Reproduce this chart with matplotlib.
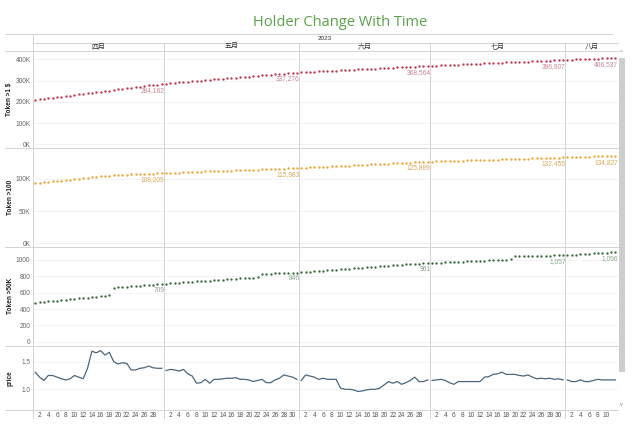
import matplotlib
matplotlib.use("Agg")
import matplotlib.pyplot as plt
from matplotlib.lines import Line2D
from matplotlib.patches import Rectangle

plt.rcParams['font.family'] = ['Liberation Sans', 'Noto Sans CJK SC', 'DejaVu Sans']

title = "Holder Change With Time"
year = "2023"
months = ["四月", "五月", "六月", "七月", "八月"]
row_names = ["Token >1 $", "Token >100", "Token >50K", "price"]

# Token >1 $ holders, thousands, one value per day
token1_apr = [208.0, 210.9, 213.2, 215.8, 218.9, 221.0, 223.6, 226.7, 229.1, 231.4, 234.6, 237.2, 239.5, 242.0, 244.9,
              247.3, 250.4, 252.8, 255.0, 258.1, 260.7, 263.0, 265.6, 268.9, 271.2, 273.5, 276.8, 279.1, 281.4, 284.162]
token1_may = [286.1, 288.0, 289.6, 291.5, 293.1, 294.9, 296.4, 298.3, 299.9, 301.8, 303.4, 305.2, 306.9, 308.5, 310.3,
              312.0, 313.6, 315.5, 317.0, 318.8, 320.5, 322.1, 323.9, 325.5, 327.2, 328.8, 330.6, 332.1, 333.9, 335.6, 337.276]
token1_jun = [338.5, 339.6, 340.7, 341.6, 342.8, 343.9, 344.9, 346.0, 347.0, 348.1, 349.2, 350.2, 351.3, 352.3, 353.4,
              354.4, 355.5, 356.5, 357.6, 358.6, 359.7, 360.7, 361.8, 362.8, 363.9, 364.9, 366.0, 366.9, 367.8, 368.564]
token1_jul = [369.5, 370.5, 371.4, 372.3, 373.2, 374.1, 375.0, 375.9, 376.8, 377.8, 378.7, 379.6, 380.5, 381.4, 382.3,
              383.2, 384.1, 385.0, 385.9, 386.8, 387.7, 388.6, 389.5, 390.4, 391.3, 392.2, 393.1, 394.1, 395.0, 396.0, 396.907]
token1_aug = [397.8, 398.6, 399.4, 400.3, 401.1, 401.9, 402.7, 403.5, 404.3, 405.0, 405.8, 406.537]

# Token >100 holders, thousands
token100_apr = [92.6, 93.4, 94.1, 94.8, 95.5, 96.2, 96.9, 97.6, 98.3, 99.0, 99.7, 100.4, 101.1, 101.8, 102.5,
                103.2, 103.9, 104.5, 104.9, 105.3, 105.6, 105.9, 106.2, 106.5, 106.8, 107.1, 107.4, 107.7, 108.0, 108.209]
token100_may = [108.5, 108.7, 109.0, 109.2, 109.5, 109.8, 110.0, 110.3, 110.5, 110.8, 111.0, 111.3, 111.5, 111.8, 112.0,
                112.3, 112.5, 112.8, 113.0, 113.3, 113.5, 113.8, 114.0, 114.3, 114.5, 114.8, 115.0, 115.3, 115.5, 115.8, 115.983]
token100_jun = [116.3, 116.7, 117.0, 117.3, 117.7, 118.0, 118.4, 118.7, 119.0, 119.4, 119.7, 120.0, 120.4, 120.7, 121.0,
                121.4, 121.7, 122.0, 122.4, 122.7, 123.0, 123.3, 123.6, 124.0, 124.3, 124.6, 124.9, 125.2, 125.6, 125.889]
token100_jul = [126.1, 126.3, 126.5, 126.7, 127.0, 127.2, 127.4, 127.6, 127.8, 128.0, 128.2, 128.4, 128.6, 128.8, 129.0,
                129.2, 129.4, 129.6, 129.9, 130.1, 130.3, 130.5, 130.7, 130.9, 131.1, 131.3, 131.5, 131.7, 131.9, 132.2, 132.455]
token100_aug = [132.7, 132.9, 133.1, 133.3, 133.5, 133.7, 133.9, 134.1, 134.3, 134.5, 134.7, 134.827]

# Token >50K holders
token50k_apr = [477, 482, 487, 493, 498, 503, 509, 514, 519, 524, 530, 535, 540, 545, 550,
                556, 561, 566, 659, 664, 668, 673, 677, 682, 686, 691, 695, 700, 704, 709]
token50k_may = [712, 716, 720, 723, 727, 731, 734, 738, 742, 745, 749, 753, 757, 760, 764,
                768, 771, 775, 779, 782, 785, 787, 828, 830, 833, 835, 837, 839, 841, 844, 846]
token50k_jun = [850, 854, 858, 862, 866, 870, 874, 878, 882, 886, 890, 894, 898, 901, 905,
                909, 913, 917, 921, 925, 929, 933, 937, 941, 945, 949, 952, 955, 958, 961]
token50k_jul = [963, 965, 968, 970, 973, 975, 978, 980, 983, 985, 988, 990, 993, 995, 998,
                1000, 1003, 1005, 1008, 1048, 1049, 1049, 1050, 1051, 1052, 1053, 1054, 1054, 1055, 1056, 1057]
token50k_aug = [1060, 1064, 1067, 1071, 1074, 1078, 1081, 1084, 1087, 1090, 1093, 1096]

# price
price_apr = [1.31, 1.22, 1.16, 1.25, 1.25, 1.22, 1.19, 1.17, 1.19, 1.25, 1.22, 1.19, 1.38, 1.69, 1.66,
             1.70, 1.62, 1.67, 1.50, 1.46, 1.48, 1.47, 1.35, 1.35, 1.38, 1.39, 1.42, 1.39, 1.38, 1.38]
price_may = [1.34, 1.36, 1.35, 1.33, 1.36, 1.28, 1.24, 1.11, 1.12, 1.18, 1.11, 1.18, 1.18, 1.19, 1.20,
             1.20, 1.21, 1.18, 1.18, 1.17, 1.14, 1.16, 1.18, 1.12, 1.12, 1.17, 1.20, 1.26, 1.24, 1.22, 1.18]
price_jun = [1.16, 1.26, 1.24, 1.22, 1.18, 1.20, 1.18, 1.18, 1.18, 1.02, 1.00, 1.00, 0.99, 0.96, 0.97,
             0.99, 1.00, 1.00, 1.02, 1.08, 1.14, 1.11, 1.14, 1.09, 1.12, 1.16, 1.22, 1.14, 1.14, 1.17]
price_jul = [1.16, 1.17, 1.18, 1.16, 1.12, 1.09, 1.14, 1.14, 1.14, 1.14, 1.14, 1.14, 1.22, 1.23, 1.27,
             1.28, 1.31, 1.27, 1.27, 1.27, 1.25, 1.24, 1.26, 1.22, 1.19, 1.20, 1.19, 1.20, 1.18, 1.19, 1.17]
price_aug = [1.17, 1.14, 1.14, 1.17, 1.14, 1.14, 1.16, 1.18, 1.17, 1.17, 1.17, 1.17]

rows = [
    [token1_apr, token1_may, token1_jun, token1_jul, token1_aug],
    [token100_apr, token100_may, token100_jun, token100_jul, token100_aug],
    [token50k_apr, token50k_may, token50k_jun, token50k_jul, token50k_aug],
    [price_apr, price_may, price_jun, price_jul, price_aug],
]

row_yticks = [[0, 100, 200, 300, 400], [0, 50, 100], [0, 200, 400, 600, 800, 1000], [1.0, 1.5]]
row_yticklabels = [["0K", "100K", "200K", "300K", "400K"], ["0K", "50K", "100K"],
                   ["0", "200", "400", "600", "800", "1000"], ["1.0", "1.5"]]
row_ylim = [(-18.8, 440.5), (-5.4, 146.5), (-46.5, 1159), (0.625, 1.793)]
dot_colors = ["#bf3650", "#eea232", "#3e6a3e"]
label_colors = ["#c98592", "#d6aa5c", "#8aa48a"]
line_color = "#4d667a"
grid_color = "#d4d4d4"

W, H = 644, 428


def fx(x):
    return x / W


def fy(y):
    return 1 - y / H


fig = plt.figure(figsize=(W / 100, H / 100), dpi=100)

n_days = [len(m) for m in rows[3]]
plot_left, plot_right = 33, 617.5
day_w = (plot_right - plot_left) / sum(n_days)
col_edges = [plot_left]
for n in n_days:
    col_edges.append(col_edges[-1] + n * day_w)
row_edges = [50.7, 148.3, 247, 345.5, 410]

for r in range(4):
    for c in range(5):
        x0, x1 = col_edges[c], col_edges[c + 1]
        y0, y1 = row_edges[r], row_edges[r + 1]
        ax = fig.add_axes([fx(x0), fy(y1), (x1 - x0) / W, (y1 - y0) / H])
        vals = rows[r][c]
        days = list(range(1, len(vals) + 1))
        if r < 3:
            ax.plot(days, vals, linestyle="none", marker="o", ms=1.7, mew=0,
                    color=dot_colors[r])
            last = vals[-1]
            txt = f"{last * 1000:,.0f}" if r < 2 else f"{last:,.0f}"
            ax.annotate(txt, (days[-1], last), xytext=(2, -2), textcoords="offset points",
                        ha="right", va="top", fontsize=4.8, color=label_colors[r])
        else:
            ax.plot(days, vals, color=line_color, lw=0.9)
        ax.set_xlim(0.5, len(vals) + 0.5)
        ax.set_ylim(*row_ylim[r])
        ax.set_yticks(row_yticks[r])
        ax.set_yticklabels(row_yticklabels[r])
        ax.tick_params(axis="y", length=0, pad=1.8, labelsize=4.7, labelcolor="#666666")
        if c > 0:
            ax.tick_params(labelleft=False)
        ax.grid(axis="y", color="#f1f1f1", lw=0.6)
        ax.set_axisbelow(True)
        if r == 3:
            ticks = [d for d in days if d % 2 == 0 and d != len(vals)]
            ax.set_xticks(ticks)
            ax.set_xticklabels([str(d) for d in ticks])
            ax.tick_params(axis="x", length=0, pad=1.5, labelsize=4.7, labelcolor="#555555")
        else:
            ax.set_xticks([])
        for s in ax.spines.values():
            s.set_visible(False)
        ax.patch.set_alpha(0)


def hline(y, x0, x1, color=grid_color, lw=0.7):
    fig.add_artist(Line2D([fx(x0), fx(x1)], [fy(y), fy(y)], transform=fig.transFigure, color=color, lw=lw))


def vline(x, y0, y1, color=grid_color, lw=0.7):
    fig.add_artist(Line2D([fx(x), fx(x)], [fy(y0), fy(y1)], transform=fig.transFigure, color=color, lw=lw))


# header and pane borders
hline(34, 5, 612)
hline(43, plot_left, plot_right)
for y in row_edges:
    hline(y, 5, plot_right)
vline(plot_left, 34, 418)
for x in col_edges[1:-1]:
    vline(x, 43, 418)

fig.text(0.5 * (fx(plot_left) + fx(plot_right)), fy(38.8), year, ha="center", va="center",
         fontsize=4.6, color="#333333")
for c, m in enumerate(months):
    fig.text(fx(0.5 * (col_edges[c] + col_edges[c + 1])), fy(46.8), m, ha="center", va="center",
             fontsize=5, color="#333333")

for r, name in enumerate(row_names):
    fig.text(fx(10), fy(0.5 * (row_edges[r] + row_edges[r + 1])), name, rotation=90,
             ha="center", va="center", fontsize=4.7, fontweight="bold", color="#222222")

fig.text(fx(340), fy(22), title, ha="center", va="center", fontsize=10.5,
         color="#5aa147", family=["Open Sans", "DejaVu Sans"])

# scrollbar
fig.add_artist(Rectangle((fx(618.5), fy(372)), 6 / W, (372 - 58) / H, transform=fig.transFigure,
                         color="#cdcdcd", lw=0))
fig.text(fx(621.5), fy(52), "^", ha="center", va="center", fontsize=4, color="#777777")
fig.text(fx(621.5), fy(404), "v", ha="center", va="center", fontsize=4, color="#777777")

fig.savefig("out.png", dpi=100)
